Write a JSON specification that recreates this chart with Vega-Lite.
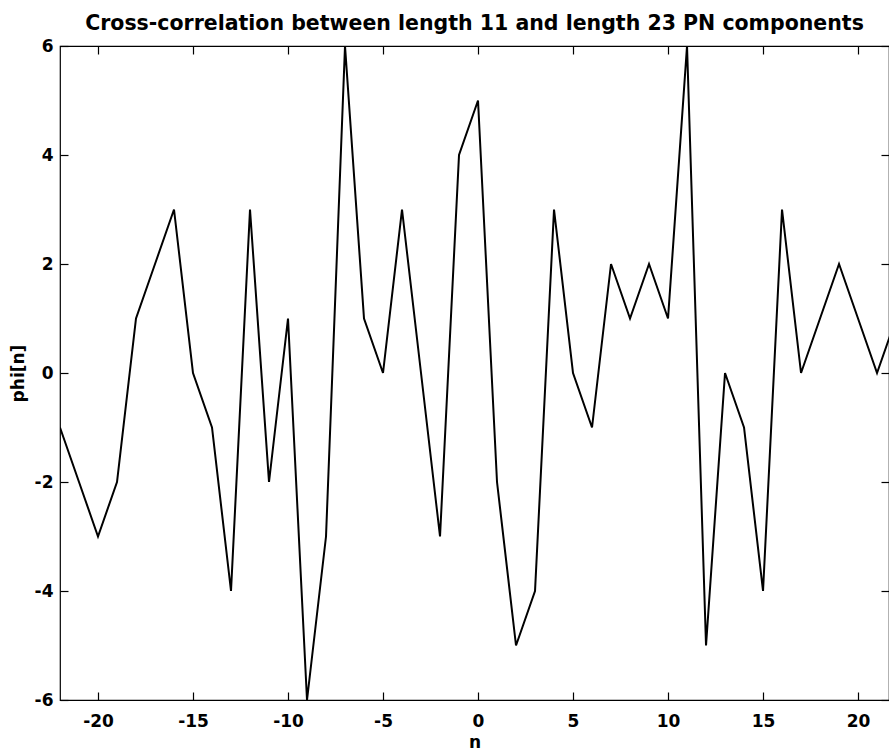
{
  "$schema": "https://vega.github.io/schema/vega-lite/v6.json",
  "autosize": "none",
  "width": 829,
  "height": 654,
  "padding": {"left": 60, "top": 46, "right": 0, "bottom": 53},
  "background": "white",
  "config": {
    "view": {"stroke": "black", "strokeWidth": 1.2},
    "font": "DejaVu Sans",
    "axis": {
      "domain": false,
      "grid": false,
      "tickColor": "black",
      "tickSize": -8,
      "tickWidth": 1.2,
      "labelFont": "DejaVu Sans",
      "labelFontWeight": "bold",
      "labelFontSize": 17,
      "labelColor": "black",
      "labelExpr": "datum.value + ''",
      "titleFont": "DejaVu Sans",
      "titleFontWeight": "bold",
      "titleFontSize": 17,
      "titleColor": "black"
    }
  },
  "title": {
    "text": "Cross-correlation between length 11 and length 23 PN components",
    "font": "DejaVu Sans",
    "fontWeight": "bold",
    "fontSize": 20.5,
    "color": "black",
    "anchor": "middle",
    "offset": 3
  },
  "data": {
    "values": [
      {"n": -22, "phi": -1}, {"n": -21, "phi": -2}, {"n": -20, "phi": -3}, {"n": -19, "phi": -2},
      {"n": -18, "phi": 1}, {"n": -17, "phi": 2}, {"n": -16, "phi": 3}, {"n": -15, "phi": 0},
      {"n": -14, "phi": -1}, {"n": -13, "phi": -4}, {"n": -12, "phi": 3}, {"n": -11, "phi": -2},
      {"n": -10, "phi": 1}, {"n": -9, "phi": -6}, {"n": -8, "phi": -3}, {"n": -7, "phi": 6},
      {"n": -6, "phi": 1}, {"n": -5, "phi": 0}, {"n": -4, "phi": 3}, {"n": -3, "phi": 0},
      {"n": -2, "phi": -3}, {"n": -1, "phi": 4}, {"n": 0, "phi": 5}, {"n": 1, "phi": -2},
      {"n": 2, "phi": -5}, {"n": 3, "phi": -4}, {"n": 4, "phi": 3}, {"n": 5, "phi": 0},
      {"n": 6, "phi": -1}, {"n": 7, "phi": 2}, {"n": 8, "phi": 1}, {"n": 9, "phi": 2},
      {"n": 10, "phi": 1}, {"n": 11, "phi": 6}, {"n": 12, "phi": -5}, {"n": 13, "phi": 0},
      {"n": 14, "phi": -1}, {"n": 15, "phi": -4}, {"n": 16, "phi": 3}, {"n": 17, "phi": 0},
      {"n": 18, "phi": 1}, {"n": 19, "phi": 2}, {"n": 20, "phi": 1}, {"n": 21, "phi": 0},
      {"n": 22, "phi": 1}
    ]
  },
  "layer": [
    {
      "mark": {"type": "line", "color": "black", "strokeWidth": 2, "clip": true},
      "encoding": {
        "x": {
          "field": "n", "type": "quantitative",
          "scale": {"domain": [-22, 21.63], "nice": false, "zero": false},
          "axis": {"orient": "bottom", "values": [-20, -15, -10, -5, 0, 5, 10, 15, 20], "title": "n", "labelPadding": 21, "titlePadding": 5}
        },
        "y": {
          "field": "phi", "type": "quantitative",
          "scale": {"domain": [-6, 6], "nice": false},
          "axis": {"orient": "left", "values": [-6, -4, -2, 0, 2, 4, 6], "title": "phi[n]", "labelPadding": 15, "titlePadding": 7}
        }
      }
    },
    {
      "mark": {"type": "line", "opacity": 0, "clip": true},
      "encoding": {
        "x": {
          "field": "n", "type": "quantitative",
          "axis": {"orient": "top", "values": [-20, -15, -10, -5, 0, 5, 10, 15, 20], "labels": false, "title": null}
        },
        "y": {
          "field": "phi", "type": "quantitative",
          "axis": {"orient": "right", "values": [-6, -4, -2, 0, 2, 4, 6], "labels": false, "title": null}
        }
      }
    }
  ],
  "resolve": {"axis": {"x": "independent", "y": "independent"}}
}
